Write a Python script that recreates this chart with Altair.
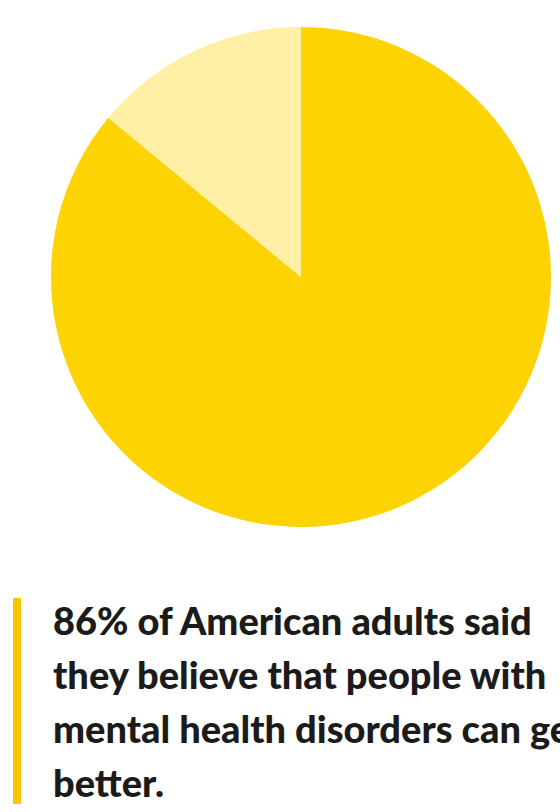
import altair as alt
import pandas as pd

categories = ["Believe people with mental health disorders can get better", "Other"]
values = [86, 14]
colors = ["#FED304", "#FFF0A6"]
caption_lines = [
    "86% of American adults said",
    "they believe that people with",
    "mental health disorders can get",
    "better.",
]

pie_df = pd.DataFrame({"category": categories, "value": values, "order": [0, 1]})
text_df = pd.DataFrame({"caption": ["\n".join(caption_lines)]})

pie = alt.Chart(pie_df).mark_arc(outerRadius=250, stroke=None).encode(
    theta=alt.Theta("value:Q", stack=True),
    order=alt.Order("order:Q"),
    color=alt.Color("category:N", scale=alt.Scale(domain=categories, range=colors), legend=None),
    x=alt.value(301),
    y=alt.value(277),
)

bar = alt.Chart(text_df).mark_rule(color="#F6C800", strokeWidth=8).encode(
    x=alt.value(17), y=alt.value(598), y2=alt.value(804)
)

caption = alt.Chart(text_df).mark_text(
    align="left", baseline="alphabetic", font="Lato", fontWeight=900,
    fontSize=38, lineBreak="\n", lineHeight=54, color="#1b1b1b"
).encode(
    text="caption:N", x=alt.value(53), y=alt.value(635)
)

chart = alt.layer(pie, bar, caption).properties(
    width=560, height=812, padding=0, autosize=alt.AutoSizeParams(type="none"),
    background="white"
).configure_view(stroke=None)

chart.save("out.html", embed_options={"renderer": "svg", "actions": False})
